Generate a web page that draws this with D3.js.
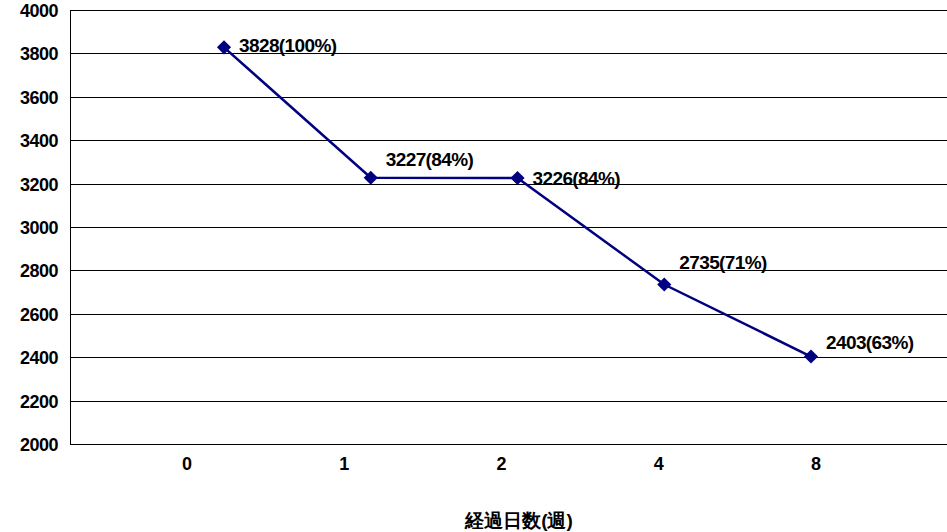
<!DOCTYPE html>
<html><head><meta charset="utf-8">
<script src="https://cdn.jsdelivr.net/npm/d3@7"></script>
<style>body{margin:0;background:#fff}text{font-family:"Liberation Sans",Arial,sans-serif;font-weight:bold}</style>
</head><body>
<svg id="c" width="947" height="532"></svg>
<script>
const categories = ["0", "1", "2", "4", "8"]
const values = [3828, 3227, 3226, 2735, 2403]
const pointLabels = ["3828(100%)", "3227(84%)", "3226(84%)", "2735(71%)", "2403(63%)"]
const yTicks = [2000, 2200, 2400, 2600, 2800, 3000, 3200, 3400, 3600, 3800, 4000]

const svg = d3.select("#c")
const mLeft = 70, mRight = 947, mTop = 10, mBottom = 444

const y = d3.scaleLinear().domain([2000, 4000]).range([mBottom, mTop])
const x = d3.scalePoint().domain(categories).range([224, 811])
const xLab = d3.scalePoint().domain(categories).range([187, 816])

// gridlines
svg.append("g").selectAll("line").data(yTicks).enter().append("line")
  .attr("x1", mLeft).attr("x2", mRight)
  .attr("y1", d => Math.round(y(d)) + 0.5).attr("y2", d => Math.round(y(d)) + 0.5)
  .attr("stroke", "#000").attr("stroke-width", 1)
svg.append("line").attr("x1", mLeft + 0.5).attr("x2", mLeft + 0.5)
  .attr("y1", mTop).attr("y2", mBottom).attr("stroke", "#000")

// y tick labels
svg.append("g").selectAll("text").data(yTicks).enter().append("text")
  .attr("x", 58).attr("y", d => y(d) + 7)
  .attr("text-anchor", "end").attr("font-size", "18px").attr("letter-spacing", "-0.5px").text(d => d)

// x labels
svg.append("g").selectAll("text").data(categories).enter().append("text")
  .attr("x", d => xLab(d)).attr("y", 470)
  .attr("text-anchor", "middle").attr("font-size", "18px").text(d => d)
svg.append("text").attr("x", 519).attr("y", 527).attr("text-anchor", "middle")
  .attr("font-size", "19px").attr("font-family", "'Noto Sans CJK JP',sans-serif").text("経過日数(週)")

// line
const line = d3.line().x((d, i) => x(categories[i])).y(d => y(d))
svg.append("path").datum(values).attr("d", line)
  .attr("fill", "none").attr("stroke", "#000080").attr("stroke-width", 2.5)

// markers: rotated squares
svg.append("g").selectAll("rect").data(values).enter().append("rect")
  .attr("x", -5).attr("y", -5).attr("width", 10).attr("height", 10)
  .attr("transform", (d, i) => "translate(" + x(categories[i]) + "," + y(d) + ") rotate(45)")
  .attr("fill", "#000080")

// point labels (vertical nudges as in the original)
const nudge = [-2, -19, 0, -23, -15]
svg.append("g").selectAll("text").data(values).enter().append("text")
  .attr("x", (d, i) => x(categories[i]) + 15)
  .attr("y", (d, i) => y(d) + nudge[i] + 7)
  .attr("font-size", "19px").attr("letter-spacing", "-0.6px").text((d, i) => pointLabels[i])
</script>
</body></html>
